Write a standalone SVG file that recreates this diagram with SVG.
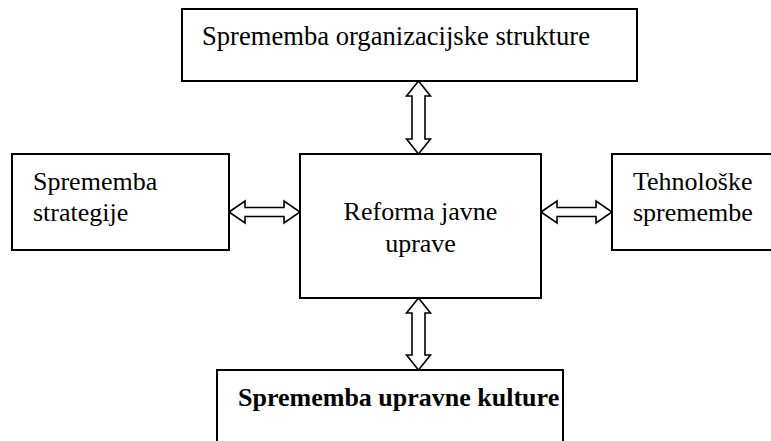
<svg xmlns="http://www.w3.org/2000/svg" width="771" height="441" viewBox="0 0 771 441">
<style>
.box{fill:#fff;stroke:#000;stroke-width:2}
.t{font-family:'Liberation Serif',Tinos,'Times New Roman',Times,'DejaVu Serif',serif;font-size:26px;fill:#000}
.b{font-weight:bold}
.arr{fill:#fff;stroke:#000;stroke-width:1.6;stroke-linejoin:miter}
</style>
<rect width="771" height="441" fill="#fff"/>
<g id="connectors">
<path class="arr" d="M418.5,81 L430.5,96 L425,96 L425,139 L430.5,139 L418.5,154 L406.5,139 L412,139 L412,96 L406.5,96 Z"/>
<path class="arr" d="M418.5,298 L430.5,313 L425,313 L425,355 L430.5,355 L418.5,370 L406.5,355 L412,355 L412,313 L406.5,313 Z"/>
<path class="arr" d="M229,212 L245,201 L245,207.5 L284,207.5 L284,201 L300,212 L284,223 L284,216.5 L245,216.5 L245,223 Z"/>
<path class="arr" d="M541,212 L557,201 L557,207.5 L596,207.5 L596,201 L612,212 L596,223 L596,216.5 L557,216.5 L557,223 Z"/>
</g>
<g id="top">
<rect class="box" x="182" y="9" width="455" height="72"/>
<text class="t" x="202" y="45" style="font-size:26.6px">Sprememba organizacijske strukture</text>
</g>
<g id="left">
<rect class="box" x="12" y="154" width="217" height="96"/>
<text class="t" x="33" y="190">Sprememba</text>
<text class="t" x="33" y="221">strategije</text>
</g>
<g id="center">
<rect class="box" x="300" y="154" width="241" height="144"/>
<text class="t" x="420.5" y="220" text-anchor="middle">Reforma javne</text>
<text class="t" x="420.5" y="252" text-anchor="middle">uprave</text>
</g>
<g id="right">
<rect class="box" x="612" y="154" width="170" height="96"/>
<text class="t" x="633" y="190">Tehnološke</text>
<text class="t" x="633" y="221">spremembe</text>
</g>
<g id="bottom">
<rect class="box" x="217" y="370" width="346" height="80"/>
<text class="t b" x="238" y="406">Sprememba upravne kulture</text>
</g>
</svg>
